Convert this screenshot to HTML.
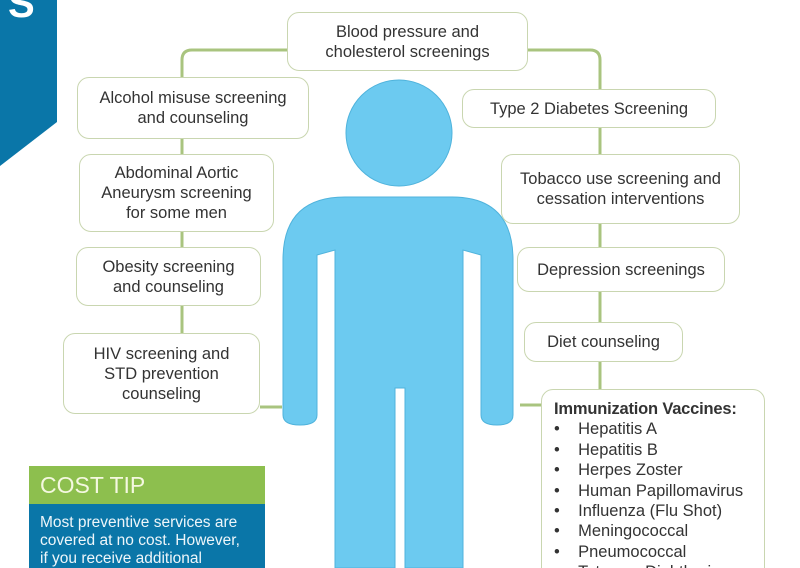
<!DOCTYPE html>
<html><head><meta charset="utf-8"><style>
html,body{margin:0;padding:0;background:#fff;}
#c{position:relative;width:800px;height:568px;overflow:hidden;font-family:"Liberation Sans",sans-serif;}
.b{position:absolute;box-sizing:border-box;border:1.5px solid #c9d6b0;border-radius:12px;background:#fff;display:flex;align-items:center;justify-content:center;text-align:center;font-size:16.5px;line-height:20px;color:#333;white-space:nowrap;}
svg{position:absolute;left:0;top:0;}
</style></head><body><div id="c">
<svg width="800" height="568">
<polygon points="0,0 57,0 57,122 0,166" fill="#0a76a8"/>
<g stroke="#a9c47f" stroke-width="3" fill="none">
<path d="M288,50 H192 Q182,50 182,60 V400"/>
<path d="M528,50 H590 Q600,50 600,60 V400"/>
<path d="M260,407 H282"/>
<path d="M520,405 H541"/>
</g>
<g fill="#6ccaf0" stroke="#4fb3dc" stroke-width="1">
<circle cx="399" cy="133" r="53"/>
<path d="M283,415 V260 Q283,197 345,197 H452 Q513,197 513,260 V415 Q513,425 497,425 Q481,425 481,415 V255 L463,250 V568 H405 V388 H395 V568 H335 V250 L317,255 V415 Q317,425 300,425 Q283,425 283,415 Z"/>
</g>
</svg>
<div style="position:absolute;left:8px;top:-18px;color:#fff;font-weight:bold;font-size:40px;">S</div>
<div class="b" style="left:287px;top:12px;width:241px;height:59px;">Blood pressure and<br>cholesterol screenings</div>
<div class="b" style="left:77px;top:77px;width:232px;height:62px;">Alcohol misuse screening<br>and counseling</div>
<div class="b" style="left:79px;top:154px;width:195px;height:78px;">Abdominal Aortic<br>Aneurysm screening<br>for some men</div>
<div class="b" style="left:76px;top:247px;width:185px;height:59px;">Obesity screening<br>and counseling</div>
<div class="b" style="left:63px;top:333px;width:197px;height:81px;">HIV screening and<br>STD prevention<br>counseling</div>
<div class="b" style="left:462px;top:89px;width:254px;height:39px;">Type 2 Diabetes Screening</div>
<div class="b" style="left:501px;top:154px;width:239px;height:70px;">Tobacco use screening and<br>cessation interventions</div>
<div class="b" style="left:517px;top:247px;width:208px;height:45px;">Depression screenings</div>
<div class="b" style="left:524px;top:322px;width:159px;height:40px;">Diet counseling</div>
<div class="b" style="left:541px;top:389px;width:224px;height:200px;display:block;text-align:left;padding:9px 0 0 12px;font-size:16.5px;line-height:20.4px;">
<b style="letter-spacing:-0.2px">Immunization Vaccines:</b>
<div>•&nbsp;&nbsp;&nbsp;&nbsp;Hepatitis A</div>
<div>•&nbsp;&nbsp;&nbsp;&nbsp;Hepatitis B</div>
<div>•&nbsp;&nbsp;&nbsp;&nbsp;Herpes Zoster</div>
<div>•&nbsp;&nbsp;&nbsp;&nbsp;Human Papillomavirus</div>
<div>•&nbsp;&nbsp;&nbsp;&nbsp;Influenza (Flu Shot)</div>
<div>•&nbsp;&nbsp;&nbsp;&nbsp;Meningococcal</div>
<div>•&nbsp;&nbsp;&nbsp;&nbsp;Pneumococcal</div>
<div>•&nbsp;&nbsp;&nbsp;&nbsp;Tetanus, Diphtheria</div>
</div>
<div style="position:absolute;left:29px;top:466px;width:236px;height:38px;background:#8dbf4e;color:#f4f8e0;font-size:23px;line-height:38px;padding-left:11px;box-sizing:border-box;">COST TIP</div>
<div style="position:absolute;left:29px;top:504px;width:236px;height:70px;background:#0a76a8;color:#eef6fa;font-size:15.5px;line-height:18px;padding:10px 0 0 11px;box-sizing:border-box;white-space:nowrap;">Most preventive services are<br>covered at no cost. However,<br>if you receive additional</div>
</div></body></html>
